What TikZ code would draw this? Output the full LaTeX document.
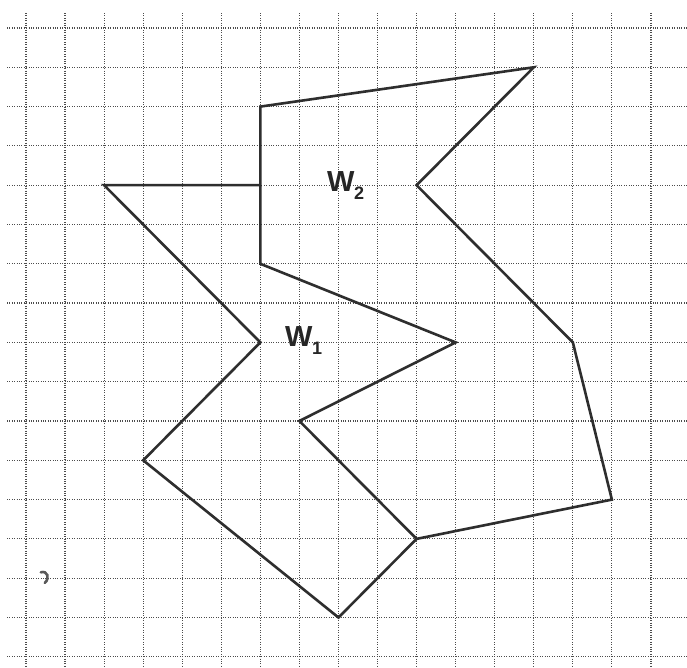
\documentclass[tikz,border=0pt]{standalone}
\usepackage{fontspec}
\setmainfont{Liberation Sans}
\begin{document}
\begin{tikzpicture}[x=39.06bp,y=-39.3bp,
  gridline/.style={black!70,line width=1.2bp,dash pattern=on 1bp off 1.4bp},
  edge/.style={black!82,line width=2.6bp,line join=miter},
  lab/.style={inner sep=0pt,anchor=base west,text=black!85,font=\fontsize{29bp}{29bp}\selectfont\bfseries}]
\useasboundingbox[fill=white] (-0.6656,-0.7125) rectangle (16.923,16.285);
% grid
\foreach \i in {0,...,16}{
  \draw[gridline] (\i,-0.38) -- (\i,16.285);
  \draw[gridline] (-0.486,\i) -- (16.923,\i);
}
% vertices
\coordinate (a) at (2,4);
\coordinate (b) at (6,4);
\coordinate (c) at (6,2);
\coordinate (d) at (13,1);
\coordinate (e) at (10,4);
\coordinate (f) at (14,8);
\coordinate (g) at (15,12);
\coordinate (h) at (10,13);
\coordinate (k) at (8,15);
\coordinate (l) at (3,11);
\coordinate (m) at (6,8);
\coordinate (n) at (6,6);
\coordinate (p) at (11,8);
\coordinate (q) at (7,10);
% outline
\draw[edge] (a) -- (b) -- (c) -- (d) -- (e) -- (f) -- (g) -- (h) -- (k) -- (l) -- (m) -- cycle;
\draw[edge] (b) -- (n) -- (p) -- (q) -- (h);
% labels
\node[lab] (w1) at (6.631,8.117) {W\kern-0.5bp\raisebox{-7.5bp}{\fontsize{18bp}{18bp}\selectfont 1}};
\node[lab] (w2) at (7.706,4.173) {W\kern-0.5bp\raisebox{-7.5bp}{\fontsize{18bp}{18bp}\selectfont 2}};
% scan smudge
\draw[black!65,line width=2.6bp,line cap=round] (0.38,13.85) .. controls (0.55,13.80) and (0.62,14.0) .. (0.48,14.12);
\end{tikzpicture}
\end{document}
